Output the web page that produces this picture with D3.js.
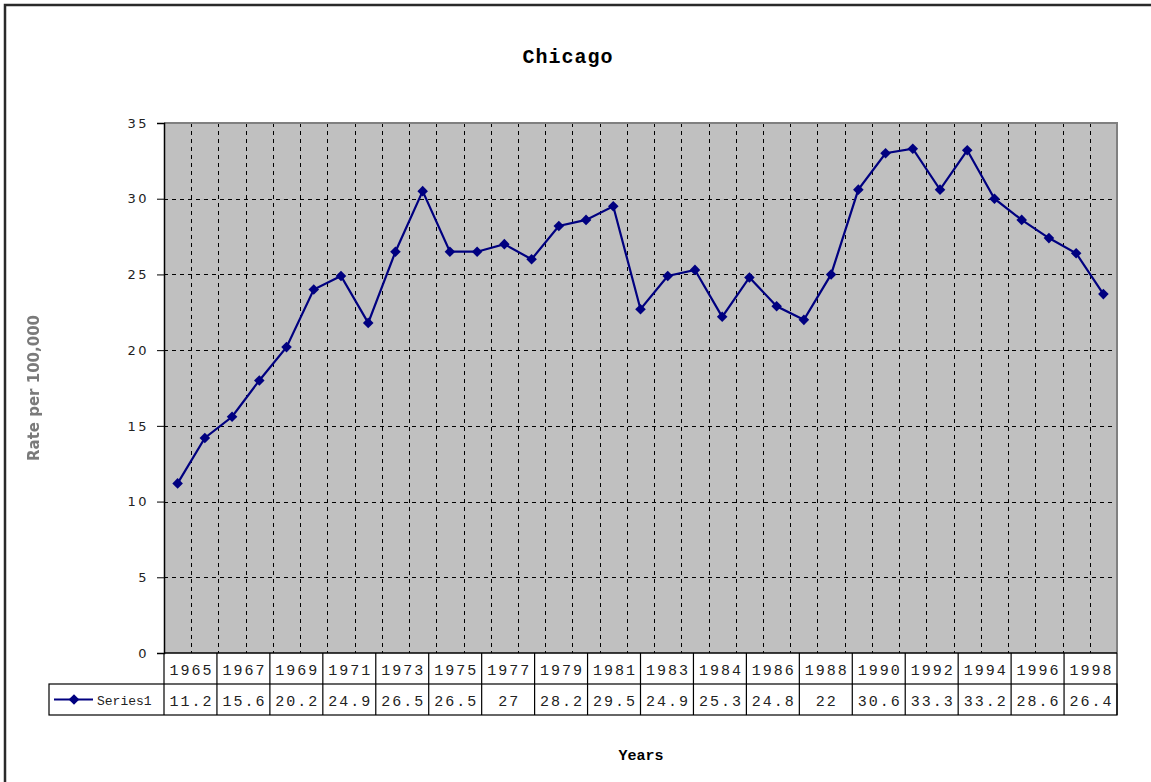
<!DOCTYPE html>
<meta charset="utf-8">
<style>
  body { margin: 0; background: #fff; }
  .title { font-family: "Liberation Mono", monospace; font-weight: bold; font-size: 20px; text-anchor: middle; letter-spacing: 1px; }
  .ytick text { font-family: "DejaVu Sans", sans-serif; font-size: 13px; fill: #222; letter-spacing: 2.5px; }
  .cell { font-family: "Liberation Mono", monospace; font-size: 15px; fill: #222; text-anchor: middle; letter-spacing: 2px; }
  .legend { font-family: "Liberation Mono", monospace; font-size: 13px; fill: #222; }
  .xtitle { font-family: "Liberation Mono", monospace; font-weight: bold; font-size: 15px; text-anchor: middle; }
  .ytitle { font-family: "DejaVu Sans", sans-serif; font-weight: bold; font-size: 15px; fill: #7a7a7a; text-anchor: middle; }
</style>
<body>
<svg width="1151" height="782"></svg>
<script src="https://d3js.org/d3.v7.min.js"></script>
<script>

// Chicago rate per 100,000, one value per year
var years = ["1965","1966","1967","1968","1969","1970","1971","1972","1973","1974",
             "1975","1976","1977","1978","1979","1980","1981","1982","1983","1984",
             "1985","1986","1987","1988","1989","1990","1991","1992","1993","1994",
             "1995","1996","1997","1998","1999"];
var rates = [11.2, 14.2, 15.6, 18.0, 20.2, 24.0, 24.9, 21.8, 26.5, 30.5,
             26.5, 26.5, 27, 26.0, 28.2, 28.6, 29.5, 22.7, 24.9, 25.3,
             22.2, 24.8, 22.9, 22, 25.0, 30.6, 33.0, 33.3, 30.6, 33.2,
             30.0, 28.6, 27.4, 26.4, 23.7];

// what the data table under the chart shows
var tableYears = ["1965","1967","1969","1971","1973","1975","1977","1979","1981",
                  "1983","1984","1986","1988","1990","1992","1994","1996","1998"];
var tableValues = ["11.2","15.6","20.2","24.9","26.5","26.5","27","28.2","29.5",
                   "24.9","25.3","24.8","22","30.6","33.3","33.2","28.6","26.4"];
var yTicks = [0, 5, 10, 15, 20, 25, 30, 35];

var svg = d3.select("svg");
var pLeft = 164, pRight = 1117, pTop = 123, pBottom = 653;
var rowH = 31;

var x = d3.scaleBand().domain(years).range([pLeft, pRight]);
var y = d3.scaleLinear().domain([0, 35]).range([pBottom, pTop]);
var xt = d3.scaleBand().domain(tableYears).range([pLeft, pRight]);

// outer frame
svg.append("rect")
    .attr("x", 5).attr("y", 5)
    .attr("width", 1160).attr("height", 800)
    .attr("fill", "none")
    .attr("stroke", "#2a2a2a")
    .attr("stroke-width", 2.5);

svg.append("text")
    .attr("class", "title")
    .attr("x", 568).attr("y", 63)
    .text("Chicago");

// plot area
svg.append("rect")
    .attr("x", pLeft).attr("y", pTop)
    .attr("width", pRight - pLeft).attr("height", pBottom - pTop)
    .attr("fill", "#c0c0c0");

var grid = svg.append("g")
    .attr("stroke", "#000")
    .attr("stroke-width", 1)
    .attr("stroke-dasharray", "4,4");
grid.selectAll(".hg")
    .data(yTicks.filter(function(d) { return d > 0 && d < 35; }))
    .enter().append("line")
    .attr("x1", pLeft).attr("x2", pRight)
    .attr("y1", function(d) { return Math.round(y(d)) + 0.5; })
    .attr("y2", function(d) { return Math.round(y(d)) + 0.5; });
grid.selectAll(".vg")
    .data(years.slice(1))
    .enter().append("line")
    .attr("x1", function(d) { return Math.round(x(d)) + 0.5; })
    .attr("x2", function(d) { return Math.round(x(d)) + 0.5; })
    .attr("y1", pTop).attr("y2", pBottom);

// plot border: grey top/right, black axes
svg.append("path")
    .attr("d", "M" + pLeft + "," + pTop + "H" + pRight + "V" + pBottom)
    .attr("fill", "none")
    .attr("stroke", "#808080")
    .attr("stroke-width", 2);

var yAxis = svg.append("g")
    .attr("class", "ytick")
    .attr("transform", "translate(" + pLeft + ",0)")
    .call(d3.axisLeft(y).tickValues(yTicks).tickSize(7).tickPadding(8));
yAxis.select(".domain").attr("stroke", "#000").attr("stroke-width", 1.5);
yAxis.selectAll(".tick line").attr("stroke", "#000");

svg.append("line")
    .attr("x1", pLeft).attr("x2", pRight)
    .attr("y1", pBottom).attr("y2", pBottom)
    .attr("stroke", "#000").attr("stroke-width", 1.5);

// series
var cx = function(d, i) { return x(years[i]) + x.bandwidth() / 2; };
var line = d3.line()
    .x(cx)
    .y(function(d) { return y(d); });
svg.append("path")
    .datum(rates)
    .attr("d", line)
    .attr("fill", "none")
    .attr("stroke", "#000080")
    .attr("stroke-width", 2.2);

var diamond = d3.symbol().type(d3.symbolSquare).size(56);
svg.selectAll(".pt")
    .data(rates)
    .enter().append("path")
    .attr("d", diamond)
    .attr("fill", "#000080")
    .attr("transform", function(d, i) {
        return "translate(" + cx(d, i) + "," + y(d) + ") rotate(45)";
    });

// data table
var tbl = svg.append("g")
    .attr("stroke", "#000")
    .attr("stroke-width", 1.2)
    .attr("fill", "none");
tbl.append("rect")
    .attr("x", 49).attr("y", pBottom + rowH)
    .attr("width", pRight - 49).attr("height", rowH);
tbl.append("line")
    .attr("x1", pLeft).attr("x2", pLeft)
    .attr("y1", pBottom).attr("y2", pBottom + 2 * rowH);
tbl.append("line")
    .attr("x1", pRight).attr("x2", pRight)
    .attr("y1", pBottom).attr("y2", pBottom + 2 * rowH);
tbl.selectAll(".cd")
    .data(tableYears.slice(1))
    .enter().append("line")
    .attr("x1", function(d) { return xt(d); })
    .attr("x2", function(d) { return xt(d); })
    .attr("y1", pBottom).attr("y2", pBottom + 2 * rowH);

svg.selectAll(".yr")
    .data(tableYears)
    .enter().append("text")
    .attr("class", "cell")
    .attr("x", function(d) { return xt(d) + xt.bandwidth() / 2 + 1; })
    .attr("y", pBottom + 22)
    .text(function(d) { return d; });
svg.selectAll(".val")
    .data(tableValues)
    .enter().append("text")
    .attr("class", "cell")
    .attr("x", function(d, i) { return xt(tableYears[i]) + xt.bandwidth() / 2 + 1; })
    .attr("y", pBottom + rowH + 22)
    .text(function(d) { return d; });

// legend key in the table
var ly = pBottom + rowH + rowH / 2;
svg.append("line")
    .attr("x1", 54).attr("x2", 93)
    .attr("y1", ly).attr("y2", ly)
    .attr("stroke", "#000080").attr("stroke-width", 2);
svg.append("path")
    .attr("d", diamond)
    .attr("fill", "#000080")
    .attr("transform", "translate(74," + ly + ") rotate(45)");
svg.append("text")
    .attr("class", "legend")
    .attr("x", 97).attr("y", ly + 5)
    .text("Series1");

// axis titles
svg.append("text")
    .attr("class", "xtitle")
    .attr("x", 641).attr("y", 760)
    .text("Years");

svg.append("defs").append("filter")
    .attr("id", "soft")
    .append("feGaussianBlur")
    .attr("stdDeviation", 0.6);
svg.append("text")
    .attr("class", "ytitle")
    .attr("transform", "translate(39,388) rotate(-90)")
    .attr("filter", "url(#soft)")
    .text("Rate per 100,000");
</script>
</body>
